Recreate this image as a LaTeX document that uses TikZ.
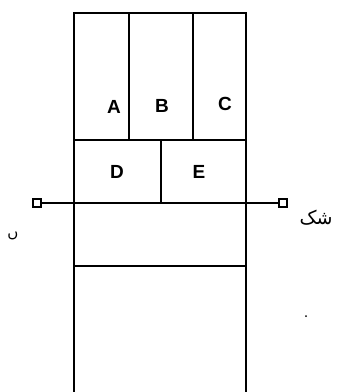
\documentclass[tikz,border=0pt]{standalone}
\usepackage{fontspec}
\setmainfont{Liberation Sans}
\newfontfamily\arabicfont[Script=Arabic]{DejaVu Sans}
\TeXXeTstate=1
\begin{document}
\begin{tikzpicture}[x=1pt,y=-1pt,
  wall/.style={line width=2.6pt,line cap=rect},
  lbl/.style={font=\bfseries\fontsize{19}{19}\selectfont,inner sep=0pt},
  term/.style={draw,line width=2pt,minimum size=8pt,inner sep=0pt,fill=white}]
\useasboundingbox (0,0) rectangle (337,392);
% outer walls
\draw[wall] (74,392) -- (74,13) -- (246,13) -- (246,392);
\draw[wall] (74,140) -- (246,140);
\draw[wall] (74,266) -- (246,266);
\draw[wall] (129,13) -- (129,140);
\draw[wall] (193,13) -- (193,140);
\draw[wall] (161,140) -- (161,203);
% terminals
\node[term] (tl) at (37,203) {};
\node[term] (tr) at (283,203) {};
\draw[line width=2.4pt] (tl) -- (tr);
% labels
\node[lbl] (A) at (114,107) {A};
\node[lbl] (B) at (162,106) {B};
\node[lbl] (C) at (225,104) {C};
\node[lbl] (D) at (117,172) {D};
\node[lbl] (E) at (199,172) {E};
\node[font=\arabicfont\fontsize{19}{19}\selectfont,inner sep=0pt] (t1) at (316,218) {\beginR شک\endR};
\node[font=\arabicfont\fontsize{15}{15}\selectfont,inner sep=0pt] (t2) at (13,236) {\beginR ں\endR};
\fill (306,316) circle (1);
\end{tikzpicture}
\end{document}
